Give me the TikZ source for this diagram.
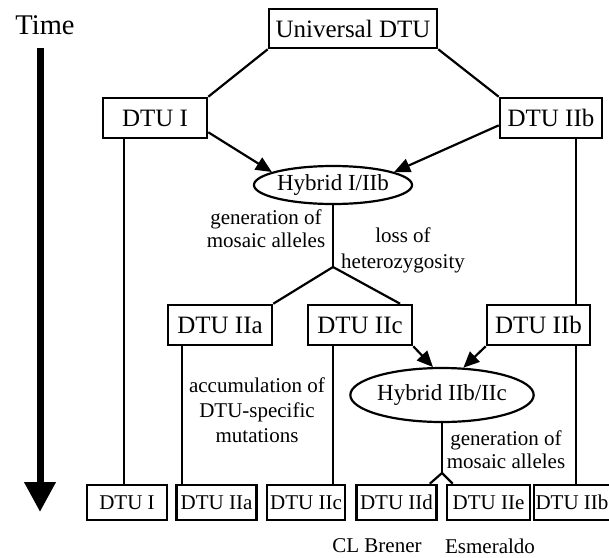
\documentclass[tikz,border=0pt]{standalone}
\usepackage{fontspec}
\setmainfont{Liberation Serif}
\usetikzlibrary{arrows.meta,shapes.geometric}

\newcommand{\sizept}[2]{\fontsize{#1}{#2}\selectfont}

\begin{document}
\begin{tikzpicture}[x=1pt,y=-1pt,
        dtubox/.style={draw,line width=2.6pt,inner sep=0pt,minimum width=104pt,minimum height=40pt,font=\sizept{25}{27}},
        leafbox/.style={draw,line width=2.6pt,inner sep=0pt,minimum width=80pt,minimum height=35pt,font=\sizept{21}{23}},
        hybnode/.style={draw,ellipse,line width=2.2pt,inner sep=0pt,font=\sizept{23}{25}},
        note/.style={align=center,font=\sizept{21}{23}},
        link/.style={line width=2.2pt},
        feed/.style={line width=2.2pt,-{Triangle[length=16pt,width=14pt]}}]
        % Fix the page to the picture size
        \useasboundingbox (0,0) rectangle (609,557);
        \clip (0,0) rectangle (609,557);

        % Time axis
        \node[font=\sizept{28.5}{30}] (time) at (45,25) {Time};
        \coordinate (tTop) at (40,48);
        \coordinate (tTip) at (40,512);
        \draw[line width=7pt,-{Triangle[length=30pt,width=30pt]}] (tTop) -- (tTip);

        % Top of the tree
        \node[dtubox,minimum width=168pt,minimum height=39pt] (univ) at (353,28.5) {Universal DTU};
        \node[dtubox] (dtuI) at (155,118) {DTU I};
        \node[dtubox,minimum width=102pt] (dtuIIbT) at (551,118) {DTU IIb};
        \node[hybnode,minimum width=140pt,minimum height=38pt] (hybA) at (333,185) {Hybrid I/IIb};
        \coordinate (fork) at (333,267);

        % Middle tier
        \node[dtubox] (dtuIIa) at (220,325) {DTU IIa};
        \node[dtubox] (dtuIIc) at (360,325) {DTU IIc};
        \node[dtubox,minimum width=103pt] (dtuIIbM) at (538.5,325) {DTU IIb};
        \node[hybnode,minimum width=151pt,minimum height=54pt] (hybB) at (442,395) {Hybrid IIb/IIc};
        \coordinate (split) at (442,473);

        % Present-day DTUs
        \node[leafbox] (leafI) at (127,502.5) {DTU I};
        \node[leafbox] (leafIIa) at (216.5,502.5) {DTU IIa};
        \node[leafbox,minimum width=78pt] (leafIIc) at (306,502.5) {DTU IIc};
        \node[leafbox] (leafIId) at (396.5,502.5) {DTU IId};
        \node[leafbox,minimum width=83pt] (leafIIe) at (488.5,502.5) {DTU IIe};
        \node[leafbox,minimum width=76pt] (leafIIb) at (572,502.5) {DTU IIb};

        % Connectors
        \draw[link] (univ.south west) -- (dtuI.north east);
        \draw[link] (univ.south east) -- (dtuIIbT.north west);
        \draw[feed] (dtuI.-15) -- (hybA.168);
        \draw[feed] (dtuIIbT.188) -- (hybA.12);
        \draw[link] (hybA.south) -- (fork);
        \draw[link] (fork) -- (dtuIIa.north east);
        \draw[link] (fork) -- (dtuIIc.28);
        \draw[feed] (dtuIIc.south east) -- (hybB.108);
        \draw[feed] (dtuIIbM.south west) -- (hybB.52);
        \draw[link] (hybB.south) -- (split);
        \draw[link] (split) -- ([xshift=-8pt]leafIId.north east);
        \draw[link] (split) -- ([xshift=7pt]leafIIe.north west);

        % Lineages running down
        \draw[link] ([xshift=-31pt]dtuI.south) -- ([xshift=-31pt]dtuI.south |- leafI.north);
        \draw[link] ([xshift=-38pt]dtuIIa.south) -- ([xshift=-38pt]dtuIIa.south |- leafIIa.north);
        \draw[link] ([xshift=-27pt]dtuIIc.south) -- ([xshift=-27pt]dtuIIc.south |- leafIIc.north);
        \draw[link] ([xshift=25pt]dtuIIbT.south) -- ([xshift=25pt]dtuIIbT.south |- dtuIIbM.north);
        \draw[link] ([xshift=37.5pt]dtuIIbM.south) -- ([xshift=37.5pt]dtuIIbM.south |- leafIIb.north);

        % Annotations
        \node[note] (genA) at (266,229) {generation of\\mosaic alleles};
        \node[note] (loss) at (403,250) {loss of\\[3pt]heterozygosity};
        \node[note] (accum) at (257,410) {accumulation of\\[2pt]DTU-specific\\[2pt]mutations};
        \node[note] (genB) at (506,450) {generation of\\mosaic alleles};
        \node[note,inner sep=1pt] (brener) at (377,546) {CL Brener};
        \node[note,inner sep=1pt] (esmer) at (490,546) {Esmeraldo};
\end{tikzpicture}
\end{document}
